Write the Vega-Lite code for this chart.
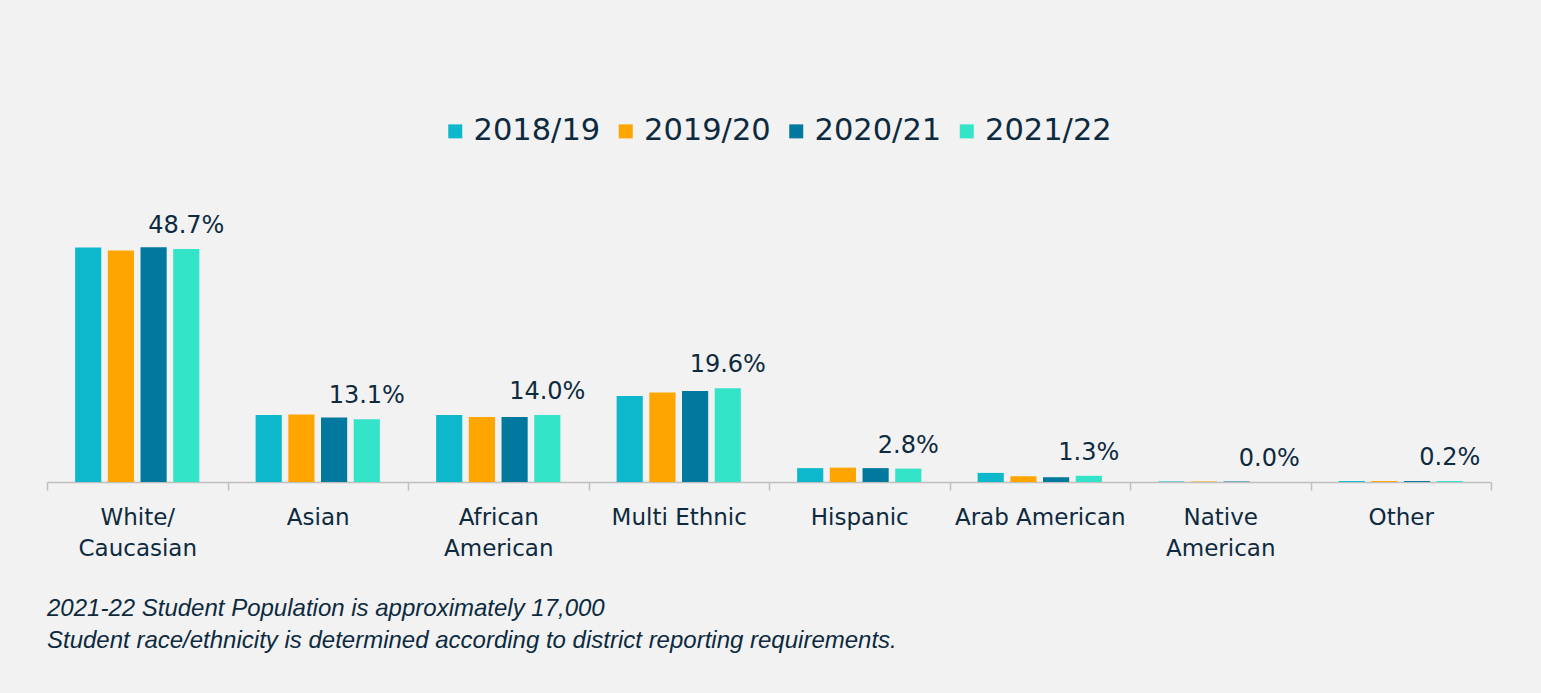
{
  "$schema": "https://vega.github.io/schema/vega-lite/v6.json",
  "autosize": {"type": "none"},
  "width": 1444,
  "height": 287,
  "padding": {"left": 47, "top": 195, "right": 50, "bottom": 211},
  "background": "#f2f2f2",
  "config": {
    "view": {"stroke": null},
    "font": "DejaVu Sans"
  },
  "title": {
    "text": ["2021-22 Student Population is approximately 17,000", "Student race/ethnicity is determined according to district reporting requirements."],
    "orient": "bottom",
    "anchor": "start",
    "frame": "group",
    "font": "Liberation Sans",
    "fontStyle": "italic",
    "fontWeight": "normal",
    "fontSize": 24,
    "lineHeight": 32,
    "color": "#0d2a3f",
    "offset": 37
  },
  "data": {
    "values": [
      {"group": "White/Caucasian", "year": "2018/19", "pct": 49.0},
      {"group": "White/Caucasian", "year": "2019/20", "pct": 48.4},
      {"group": "White/Caucasian", "year": "2020/21", "pct": 49.1},
      {"group": "White/Caucasian", "year": "2021/22", "pct": 48.7},
      {"group": "Asian", "year": "2018/19", "pct": 14.0},
      {"group": "Asian", "year": "2019/20", "pct": 14.1},
      {"group": "Asian", "year": "2020/21", "pct": 13.5},
      {"group": "Asian", "year": "2021/22", "pct": 13.1},
      {"group": "African American", "year": "2018/19", "pct": 14.0},
      {"group": "African American", "year": "2019/20", "pct": 13.6},
      {"group": "African American", "year": "2020/21", "pct": 13.6},
      {"group": "African American", "year": "2021/22", "pct": 14.0},
      {"group": "Multi Ethnic", "year": "2018/19", "pct": 18.0},
      {"group": "Multi Ethnic", "year": "2019/20", "pct": 18.7},
      {"group": "Multi Ethnic", "year": "2020/21", "pct": 19.0},
      {"group": "Multi Ethnic", "year": "2021/22", "pct": 19.6},
      {"group": "Hispanic", "year": "2018/19", "pct": 2.9},
      {"group": "Hispanic", "year": "2019/20", "pct": 3.0},
      {"group": "Hispanic", "year": "2020/21", "pct": 2.9},
      {"group": "Hispanic", "year": "2021/22", "pct": 2.8},
      {"group": "Arab American", "year": "2018/19", "pct": 1.9},
      {"group": "Arab American", "year": "2019/20", "pct": 1.2},
      {"group": "Arab American", "year": "2020/21", "pct": 1.0},
      {"group": "Arab American", "year": "2021/22", "pct": 1.3},
      {"group": "Native American", "year": "2018/19", "pct": 0.1},
      {"group": "Native American", "year": "2019/20", "pct": 0.1},
      {"group": "Native American", "year": "2020/21", "pct": 0.1},
      {"group": "Native American", "year": "2021/22", "pct": 0.0},
      {"group": "Other", "year": "2018/19", "pct": 0.2},
      {"group": "Other", "year": "2019/20", "pct": 0.2},
      {"group": "Other", "year": "2020/21", "pct": 0.2},
      {"group": "Other", "year": "2021/22", "pct": 0.2}
    ]
  },
  "encoding": {
    "x": {
      "field": "group",
      "type": "nominal",
      "sort": null,
      "scale": {"paddingInner": 0, "paddingOuter": 0},
      "axis": {
        "title": null,
        "labelAngle": 0,
        "labelFont": "DejaVu Sans",
        "labelFontSize": 23,
        "labelColor": "#0d2a3f",
        "labelLineHeight": 31,
        "labelBaseline": "top",
        "labelPadding": 16,
        "labelExpr": "datum.label == 'White/Caucasian' ? ['White/', 'Caucasian'] : datum.label == 'African American' ? ['African', 'American'] : datum.label == 'Native American' ? ['Native', 'American'] : datum.label",
        "tickBand": "extent",
        "tickSize": 8,
        "tickColor": "#bfbfbf",
        "tickWidth": 1.5,
        "domainColor": "#bfbfbf",
        "domainWidth": 1.5,
        "labelOverlap": false
      }
    },
    "xOffset": {
      "field": "year",
      "type": "nominal",
      "sort": null,
      "scale": {"paddingInner": 0.2, "paddingOuter": 0.86}
    },
    "y": {
      "field": "pct",
      "type": "quantitative",
      "scale": {"domain": [0, 60]},
      "axis": null
    }
  },
  "layer": [
    {
      "mark": {"type": "bar"},
      "encoding": {
        "color": {
          "field": "year",
          "type": "nominal",
          "sort": null,
          "scale": {
            "domain": ["2018/19", "2019/20", "2020/21", "2021/22"],
            "range": ["#0eb8cc", "#ffa500", "#01789d", "#34e4c8"]
          },
          "legend": {
            "title": null,
            "orient": "none",
            "direction": "horizontal",
            "legendX": 393,
            "legendY": -79,
            "symbolType": "square",
            "symbolSize": 196,
            "symbolStrokeWidth": 0,
            "symbolOpacity": 1,
            "labelFont": "DejaVu Sans",
            "labelFontSize": 30.5,
            "labelColor": "#0d2a3f",
            "labelOffset": 3,
            "columnPadding": 9.5,
            "gridAlign": "all"
          }
        }
      }
    },
    {
      "transform": [
        {"filter": "datum.year == '2021/22'"},
        {"calculate": "format(datum.pct, '.1f') + '%'", "as": "label"}
      ],
      "mark": {
        "type": "text",
        "dy": -16,
        "baseline": "alphabetic",
        "align": "center",
        "font": "DejaVu Sans",
        "fontSize": 24,
        "color": "#0d2a3f"
      },
      "encoding": {
        "text": {"field": "label", "type": "nominal"}
      }
    }
  ]
}
